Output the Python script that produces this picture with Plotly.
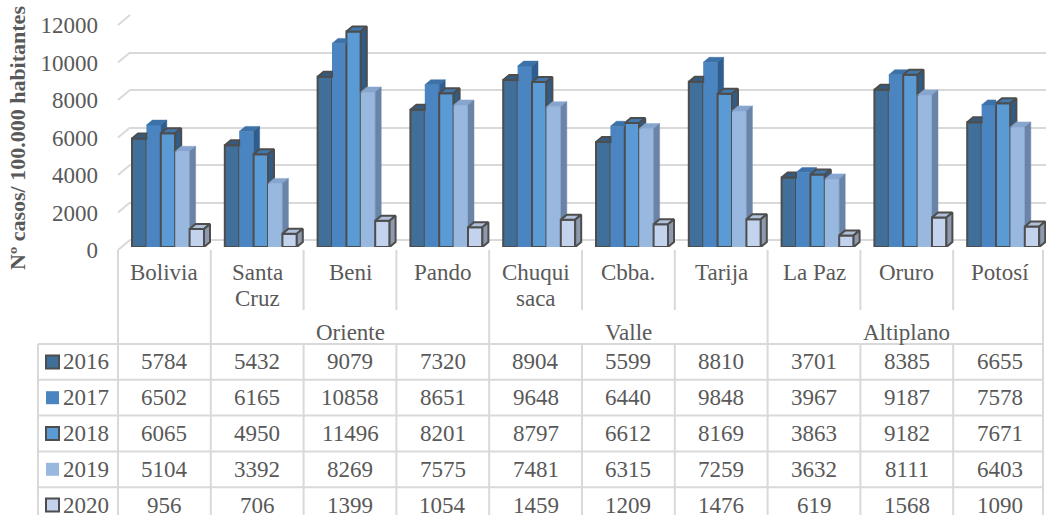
import plotly.graph_objects as go

# ---------------- data ----------------
categories = ["Bolivia", "Santa Cruz", "Beni", "Pando", "Chuquisaca",
              "Cbba.", "Tarija", "La Paz", "Oruro", "Potosí"]
category_lines = [["Bolivia"], ["Santa", "Cruz"], ["Beni"], ["Pando"],
                  ["Chuqui", "saca"], ["Cbba."], ["Tarija"], ["La Paz"],
                  ["Oruro"], ["Potosí"]]
regions = ["Oriente", "Valle", "Altiplano"]
region_first = [1, 4, 7]      # first category index of each region
region_last = [3, 6, 9]       # last category index of each region

years = ["2016", "2017", "2018", "2019", "2020"]
v2016 = [5784, 5432, 9079, 7320, 8904, 5599, 8810, 3701, 8385, 6655]
v2017 = [6502, 6165, 10858, 8651, 9648, 6440, 9848, 3967, 9187, 7578]
v2018 = [6065, 4950, 11496, 8201, 8797, 6612, 8169, 3863, 9182, 7671]
v2019 = [5104, 3392, 8269, 7575, 7481, 6315, 7259, 3632, 8111, 6403]
v2020 = [956, 706, 1399, 1054, 1459, 1209, 1476, 619, 1568, 1090]
series = [v2016, v2017, v2018, v2019, v2020]

y_ticks = [0, 2000, 4000, 6000, 8000, 10000, 12000]
y_title = "Nº casos/ 100.000 habitantes"

# ---------------- styling ----------------
front_colors = ["#406F9A", "#4A85C1", "#5A9AD5", "#98B8E0", "#C3D3EE"]
top_colors = ["#345C82", "#3C72A8", "#4178AE", "#87A6CF", "#B0C0DA"]
side_colors = ["#2E5478", "#2F5E8E", "#2F5C88", "#6A84A8", "#8C99AE"]
outlined = [True, False, True, False, True]

W, H = 1046, 515
FONT = "Liberation Serif"
GREY = "#595959"
GRID = "#D9D9D9"
EDGE = "#4D4D4D"
FS = 23

COL0 = 118          # left edge of the category columns (px)
COLW = 92.8         # width of one category column (px)
WALL_DX, WALL_DY = 12, 10
Y_FRONT0 = 250      # value 0 on the front plane (px)
Y_SPAN = 225        # px from 0 to YMAX
YMAX = 12000
BAR_Y0 = 247        # bar floor (px)
BAR_W = 14.4
BAR_PAD = 14
DEPTH_X, DEPTH_Y = 6, 5

HEAD_TOP = 250      # top of category label area
HEAD_MID = 310      # bottom of inner separators
ROW0 = 344          # top of the value table
ROWH = 35.8
TABLE_L = 38
TABLE_R = 1043


def fx(p):
    return p / W


def fy(p):
    return 1 - p / H


def col_left(i):
    return COL0 + COLW * i


fig = go.Figure()

# back wall subplot (carries the gridlines)
fig.add_trace(go.Scatter(x=[0.5], y=[0], xaxis="x", yaxis="y", mode="markers",
                         marker=dict(opacity=0), hoverinfo="skip", showlegend=False))

# ---------------- 3D columns ----------------
w = BAR_W / COLW
dx = DEPTH_X / COLW
dy = DEPTH_Y * YMAX / Y_SPAN
xs = list(range(len(categories)))

for j, vals in enumerate(series):
    off = (BAR_PAD + BAR_W * j) / COLW
    fig.add_trace(go.Bar(
        x=xs, y=vals, xaxis="x2", yaxis="y2", width=w, offset=off,
        name=years[j], showlegend=False,
        marker=dict(color=front_colors[j],
                    line=dict(color=EDGE if outlined[j] else front_colors[j],
                              width=2 if outlined[j] else 0)),
        hovertemplate="%{x}<br>" + years[j] + ": %{y}<extra></extra>",
    ))

for j, vals in enumerate(series):
    off = (BAR_PAD + BAR_W * j) / COLW
    nxt = series[j + 1] if j + 1 < len(series) else None
    tx, ty, sx, sy = [], [], [], []
    for i, v in enumerate(vals):
        xl = i + off
        xr = xl + w
        vn = nxt[i] if nxt is not None else None
        # top face
        if vn is not None and vn > v:
            tx += [xl, xr, xr, xl + dx, xl, None]
            ty += [v, v, v + dy, v + dy, v, None]
        else:
            tx += [xl, xr, xr + dx, xl + dx, xl, None]
            ty += [v, v, v + dy, v + dy, v, None]
        # side face (only the part above the neighbouring column)
        if vn is None:
            b = 0
        elif vn < v:
            b = vn
        else:
            continue
        sx += [xr, xr + dx, xr + dx, xr, xr, None]
        sy += [b, b + dy, v + dy, v, b, None]
    lw = 2 if outlined[j] else 0.5
    for px_, py_, col in ((tx, ty, top_colors[j]), (sx, sy, side_colors[j])):
        fig.add_trace(go.Scatter(
            x=px_, y=py_, xaxis="x2", yaxis="y2", mode="lines", fill="toself",
            fillcolor=col, line=dict(color=EDGE if outlined[j] else col, width=lw),
            hoverinfo="skip", showlegend=False))

# front-plane axis that carries the value labels
fig.add_trace(go.Scatter(x=[0], y=[0], xaxis="x2", yaxis="y3", mode="markers",
                         marker=dict(opacity=0), hoverinfo="skip", showlegend=False))

# ---------------- shapes ----------------
shapes = []


def hline(y, x0, x1):
    shapes.append(dict(type="line", xref="paper", yref="paper",
                       x0=fx(x0), x1=fx(x1), y0=fy(y), y1=fy(y),
                       line=dict(color=GRID, width=2)))


def vline(x, y0, y1):
    shapes.append(dict(type="line", xref="paper", yref="paper",
                       x0=fx(x), x1=fx(x), y0=fy(y0), y1=fy(y1),
                       line=dict(color=GRID, width=2)))


# side wall edges joining the front plane with the back wall gridlines
for t in y_ticks:
    yf = Y_FRONT0 - t * Y_SPAN / YMAX
    shapes.append(dict(type="line", xref="paper", yref="paper",
                       x0=fx(COL0), y0=fy(yf), x1=fx(COL0 + WALL_DX), y1=fy(yf - WALL_DY),
                       line=dict(color=GRID, width=2)))

# category separators
group_edges = {0, 1} | set(region_first) | {len(categories)}
for k in range(len(categories) + 1):
    x = col_left(k) if k < len(categories) else TABLE_R
    if k in group_edges:
        vline(x, HEAD_TOP, H)
    else:
        vline(x, HEAD_TOP, HEAD_MID)
        vline(x, ROW0, H)

# table grid
vline(TABLE_L, ROW0, H)
for r in range(len(years)):
    hline(ROW0 + ROWH * r, TABLE_L, TABLE_R)

# legend keys in the table
for j in range(len(years)):
    yc = ROW0 + ROWH * (j + 0.5)
    s = 6.5
    shapes.append(dict(type="rect", xref="paper", yref="paper",
                       x0=fx(52.5 - s), x1=fx(52.5 + s), y0=fy(yc + s), y1=fy(yc - s),
                       fillcolor=front_colors[j],
                       line=dict(color=EDGE if outlined[j] else front_colors[j],
                                 width=2 if outlined[j] else 0)))

# ---------------- text ----------------
ann = []
txt_font = dict(family=FONT, size=FS, color=GREY)

for i, lines in enumerate(category_lines):
    xc = col_left(i) + COLW / 2
    for k, line in enumerate(lines):
        ann.append(dict(text=line, x=fx(xc), y=fy(272 + 26 * k), xref="paper", yref="paper",
                        xanchor="center", yanchor="middle", showarrow=False, font=txt_font))

for name, a, b in zip(regions, region_first, region_last):
    xc = (col_left(a) + col_left(b) + COLW) / 2
    ann.append(dict(text=name, x=fx(xc), y=fy(332), xref="paper", yref="paper",
                    xanchor="center", yanchor="middle", showarrow=False, font=txt_font))

for j, vals in enumerate(series):
    yc = ROW0 + ROWH * (j + 0.5)
    ann.append(dict(text=years[j], x=fx(61), y=fy(yc), xref="paper", yref="paper",
                    xanchor="left", yanchor="middle", showarrow=False, font=txt_font))
    for i, v in enumerate(vals):
        ann.append(dict(text=str(v), x=fx(col_left(i) + COLW / 2), y=fy(yc),
                        xref="paper", yref="paper", xanchor="center", yanchor="middle",
                        showarrow=False, font=txt_font))

ann.append(dict(text="<b>" + y_title + "</b>", x=fx(18), y=fy(138), xref="paper", yref="paper",
                xanchor="center", yanchor="middle", textangle=-90, showarrow=False,
                font=dict(family=FONT, size=22, color=GREY)))

# ---------------- layout ----------------
fig.update_layout(
    width=W, height=H, autosize=False,
    margin=dict(l=0, r=0, t=0, b=0, pad=0, autoexpand=False),
    paper_bgcolor="white", plot_bgcolor="rgba(0,0,0,0)",
    barmode="overlay", showlegend=False,
    font=dict(family=FONT, color=GREY),
    xaxis=dict(domain=[fx(COL0 + WALL_DX), 1], range=[0, 1], visible=False,
               fixedrange=True, automargin=False),
    yaxis=dict(domain=[fy(Y_FRONT0 - WALL_DY), fy(Y_FRONT0 - WALL_DY - Y_SPAN)],
               range=[0, YMAX], tickvals=y_ticks, showticklabels=False, ticks="",
               showgrid=True, gridcolor=GRID, gridwidth=2,
               zeroline=True, zerolinecolor=GRID, zerolinewidth=2,
               showline=False, fixedrange=True, automargin=False),
    xaxis2=dict(domain=[fx(COL0), 1], range=[0, (W - COL0) / COLW], anchor="y2",
                visible=False, fixedrange=True, automargin=False),
    yaxis2=dict(domain=[fy(BAR_Y0), fy(BAR_Y0 - Y_SPAN)], range=[0, YMAX], anchor="x2",
                visible=False, fixedrange=True, automargin=False),
    yaxis3=dict(domain=[fy(Y_FRONT0), fy(Y_FRONT0 - Y_SPAN)], range=[0, YMAX], anchor="x2",
                tickvals=y_ticks, ticktext=[str(t) for t in y_ticks], ticks="",
                showgrid=False, zeroline=False, showline=False,
                tickfont=dict(family=FONT, size=FS, color=GREY),
                ticklabelstandoff=19, fixedrange=True, automargin=False),
    shapes=shapes,
    annotations=ann,
)

fig.write_html("out.html")
